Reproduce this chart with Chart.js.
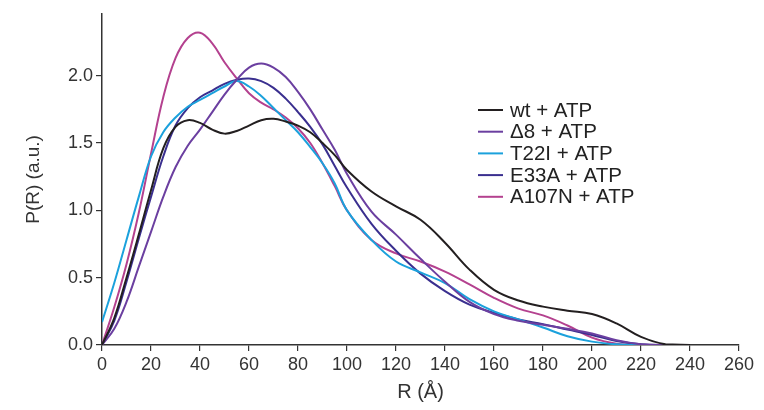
<!DOCTYPE html>
<html>
<head>
<meta charset="utf-8">
<script src="https://cdn.jsdelivr.net/npm/chart.js@4.4.1/dist/chart.umd.min.js"></script>
<style>
  html, body { margin: 0; padding: 0; background: #ffffff; }
  #wrap { width: 764px; height: 410px; }
</style>
</head>
<body>
<div id="wrap"><canvas id="c" width="764" height="410"></canvas></div>
<script>
// R values (Å)
const R = [0,5,10,15,20,25,30,35,40,45,50,55,60,65,70,75,80,85,90,95,100,110,120,130,140,150,160,170,180,190,200,210,220,230,240];

const seriesLabels = ["wt + ATP", "\u03948 + ATP", "T22I + ATP", "E33A + ATP", "A107N + ATP"];
const seriesColors = ["#231f20", "#6b3fa0", "#1ba1dc", "#3a2f8f", "#b4418f"];

const wt    = [0,0.2,0.5,0.82,1.15,1.46,1.62,1.67,1.65,1.6,1.57,1.59,1.63,1.67,1.68,1.66,1.63,1.58,1.5,1.41,1.3,1.14,1.03,0.93,0.76,0.56,0.41,0.33,0.285,0.255,0.23,0.16,0.06,0.005,0];
const d8    = [0,0.12,0.32,0.58,0.84,1.1,1.32,1.48,1.6,1.73,1.86,1.97,2.06,2.09,2.06,1.99,1.88,1.75,1.6,1.45,1.27,0.99,0.82,0.64,0.47,0.32,0.23,0.18,0.15,0.12,0.085,0.035,0.005,0,0];
const t22i  = [0.17,0.46,0.78,1.1,1.4,1.58,1.69,1.77,1.82,1.87,1.92,1.96,1.92,1.85,1.76,1.67,1.58,1.47,1.35,1.2,1.0,0.78,0.62,0.54,0.46,0.34,0.25,0.19,0.13,0.065,0.025,0.005,0,0,0];
const e33a  = [0,0.18,0.47,0.79,1.1,1.4,1.63,1.76,1.84,1.89,1.94,1.97,1.98,1.96,1.91,1.83,1.73,1.62,1.49,1.33,1.17,0.9,0.7,0.53,0.4,0.3,0.24,0.19,0.155,0.115,0.075,0.03,0.005,0,0];
const a107n = [0,0.28,0.6,0.98,1.42,1.84,2.13,2.28,2.32,2.24,2.1,1.98,1.87,1.8,1.75,1.69,1.61,1.5,1.35,1.18,1.0,0.78,0.68,0.62,0.545,0.45,0.35,0.27,0.22,0.145,0.055,0.01,0,0,0];

const xTicks = [0,20,40,60,80,100,120,140,160,180,200,220,240,260];
const yTicks = [0,0.5,1.0,1.5,2.0];

const allSeries = [wt, d8, t22i, e33a, a107n];

const FONT = "'Liberation Sans', Arial, Helvetica, sans-serif";

const datasets = allSeries.map((vals, i) => ({
  label: seriesLabels[i],
  data: R.map((r, k) => ({x: r, y: vals[k]})),
  borderColor: seriesColors[i],
  backgroundColor: seriesColors[i],
  borderWidth: 2,
  pointRadius: 0,
  fill: false,
  tension: 0.4
}));

const legendPlugin = {
  id: 'customLegend',
  afterDraw(chart) {
    const ctx = chart.ctx;
    ctx.save();
    ctx.font = "20.5px " + FONT;
    ctx.textBaseline = 'middle';
    ctx.textAlign = 'left';
    const x0 = 478, x1 = 503, tx = 510, y0 = 110, dy = 21.7;
    chart.data.datasets.forEach((ds, i) => {
      const y = y0 + i * dy;
      ctx.strokeStyle = ds.borderColor;
      ctx.lineWidth = 2;
      ctx.beginPath();
      ctx.moveTo(x0, y);
      ctx.lineTo(x1, y);
      ctx.stroke();
      ctx.fillStyle = '#222222';
      ctx.fillText(ds.label, tx, y + 1);
    });
    ctx.restore();
  }
};

new Chart(document.getElementById('c'), {
  type: 'line',
  data: { datasets },
  plugins: [legendPlugin],
  options: {
    responsive: false,
    animation: false,
    layout: { padding: { left: 0, top: 8, right: 25, bottom: 0 } },
    plugins: { legend: { display: false }, tooltip: { enabled: false } },
    scales: {
      x: {
        type: 'linear',
        min: 0, max: 260,
        afterFit(s) { s.height = 65; },
        afterBuildTicks(s) { s.ticks = xTicks.map(v => ({value: v})); },
        ticks: { font: { family: FONT, size: 18 }, color: '#333333', padding: 3, maxRotation: 0, autoSkip: false,
                 callback: v => String(v) },
        grid: { drawOnChartArea: false, drawTicks: true, tickLength: 6, color: '#333333', lineWidth: 1.2 },
        border: { display: true, color: '#333333', width: 1.5 },
        title: { display: true, text: 'R (\u00C5)', font: { family: FONT, size: 20 }, color: '#333333', padding: { top: 0, bottom: 6 } }
      },
      y: {
        type: 'linear',
        min: 0, max: 2.46,
        afterFit(s) { s.width = 102; },
        afterBuildTicks(s) { s.ticks = yTicks.map(v => ({value: v})); },
        ticks: { font: { family: FONT, size: 18 }, color: '#333333', padding: 3,
                 callback: v => Number(v).toFixed(1) },
        grid: { drawOnChartArea: false, drawTicks: true, tickLength: 6, color: '#333333', lineWidth: 1.2 },
        border: { display: true, color: '#333333', width: 1.5 },
        title: { display: true, text: 'P(R) (a.u.)', font: { family: FONT, size: 19 }, color: '#333333', padding: { top: 22, bottom: 0 } }
      }
    }
  }
});
</script>
</body>
</html>
